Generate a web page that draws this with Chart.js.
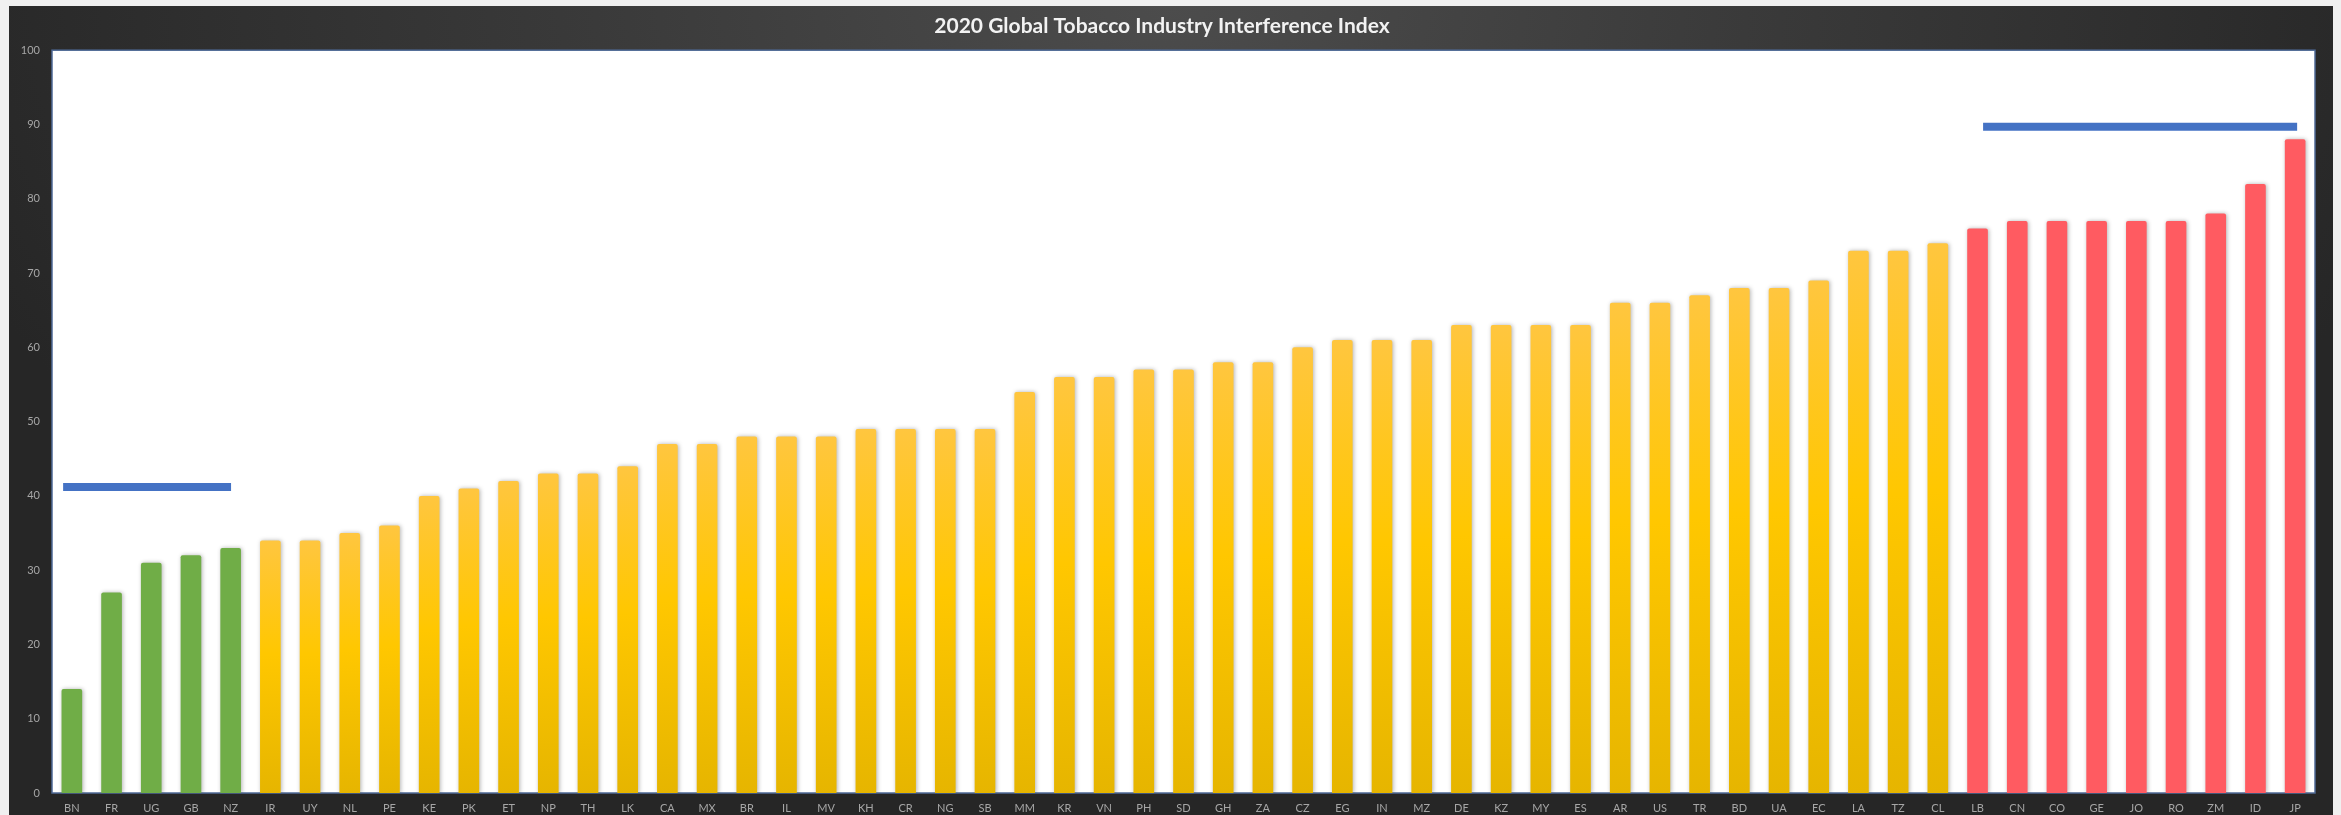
<!DOCTYPE html>
<html>
<head>
<meta charset="utf-8">
<script src="https://cdn.jsdelivr.net/npm/chart.js@4.4.1/dist/chart.umd.min.js"></script>
<style>
html, body { margin: 0; padding: 0; background: #f0f0f0; }
#bg {
    position: absolute; left: 9px; top: 6px; width: 2324px; height: 809px;
    background: radial-gradient(ellipse 55% 95% at 50% 0%, #4c4c4c 0%, #3a3a3a 45%, #262626 100%);
}
#wrap { position: absolute; left: 0; top: 0; width: 2341px; height: 815px; }
</style>
</head>
<body>
<div id="bg"></div>
<div id="wrap"><canvas id="tiiChart" width="2341" height="815"></canvas></div>
<script>
// Dữ liệu
const countries = ['BN', 'FR', 'UG', 'GB', 'NZ', 'IR', 'UY', 'NL', 'PE', 'KE', 'PK', 'ET', 'NP', 'TH', 'LK',
    'CA', 'MX', 'BR', 'IL', 'MV', 'KH', 'CR', 'NG', 'SB', 'MM', 'KR', 'VN', 'PH', 'SD', 'GH', 'ZA', 'CZ',
    'EG', 'IN', 'MZ', 'DE', 'KZ', 'MY', 'ES', 'AR', 'US', 'TR', 'BD', 'UA', 'EC', 'LA', 'TZ', 'CL', 'LB',
    'CN', 'CO', 'GE', 'JO', 'RO', 'ZM', 'ID', 'JP'];
const scores = [14, 27, 31, 32, 33, 34, 34, 35, 36, 40, 41, 42, 43, 43, 44,
    47, 47, 48, 48, 48, 49, 49, 49, 49, 54, 56, 56, 57, 57, 58, 58, 60,
    61, 61, 61, 63, 63, 63, 63, 66, 66, 67, 68, 68, 69, 73, 73, 74, 76,
    77, 77, 77, 77, 77, 78, 82, 88];
const yTicks = [0, 10, 20, 30, 40, 50, 60, 70, 80, 90, 100];
const greenCount = 5;    // 5 nước đầu: xanh lá
const redFrom = 48;      // từ LB trở đi: đỏ
// Hai vạch xanh dương (mức)
const lowLine = [[-0.22, 41.2], [4.01, 41.2]];
const highLine = [[48.14, 89.7], [56.05, 89.7]];

function barColor(context) {
    const i = context.dataIndex;
    if (i < greenCount) return '#70ad47';
    if (i >= redFrom) return '#ff5b61';
    const chart = context.chart;
    const y = chart.scales.y;
    if (!chart.chartArea || !y) return '#ffc000';
    const top = y.getPixelForValue(scores[i]);
    const bottom = y.getPixelForValue(0);
    const g = chart.ctx.createLinearGradient(0, top, 0, bottom);
    g.addColorStop(0, '#ffc63f');
    g.addColorStop(0.45, '#ffc700');
    g.addColorStop(1, '#e6b500');
    return g;
}

// Nền trắng cho vùng vẽ
const plotBg = {
    id: 'plotBg',
    beforeDatasetsDraw(chart) {
        const { ctx, chartArea: a } = chart;
        ctx.save();
        ctx.fillStyle = '#ffffff';
        ctx.fillRect(a.left, a.top, a.right - a.left, a.bottom - a.top);
        ctx.strokeStyle = '#4f6a96';
        ctx.lineWidth = 1.5;
        ctx.strokeRect(a.left, a.top, a.right - a.left, a.bottom - a.top);
        ctx.restore();
    }
};

// Bóng mờ cho cột
const barShadow = {
    id: 'barShadow',
    beforeDatasetDraw(chart, args) {
        if (args.index !== 0) return;
        const ctx = chart.ctx;
        ctx.save();
        ctx.shadowColor = 'rgba(0,0,0,0.3)';
        ctx.shadowBlur = 4;
        ctx.shadowOffsetX = 1;
    },
    afterDatasetDraw(chart, args) {
        if (args.index === 0) chart.ctx.restore();
    }
};

const toPoints = arr => arr.map(p => ({ x: p[0], y: p[1] }));

new Chart(document.getElementById('tiiChart'), {
    type: 'bar',
    data: {
        labels: countries,
        datasets: [{
            type: 'bar',
            data: scores,
            backgroundColor: barColor,
            borderRadius: 2,
            grouped: false,
            categoryPercentage: 1,
            barPercentage: 0.52,
            order: 2
        }, {
            type: 'line',
            xAxisID: 'xLine',
            data: toPoints(lowLine),
            borderColor: '#4472c4',
            borderWidth: 8,
            borderCapStyle: 'butt',
            pointRadius: 0,
            order: 1
        }, {
            type: 'line',
            xAxisID: 'xLine',
            data: toPoints(highLine),
            borderColor: '#4472c4',
            borderWidth: 8,
            borderCapStyle: 'butt',
            pointRadius: 0,
            order: 1
        }]
    },
    options: {
        responsive: false,
        animation: false,
        devicePixelRatio: 1,
        layout: { padding: { top: 6, left: 9, right: 26, bottom: 0 } },
        plugins: {
            legend: { display: false },
            tooltip: { enabled: false },
            title: {
                display: true,
                text: '2020 Global Tobacco Industry Interference Index',
                color: '#f2f2f2',
                font: { family: 'Lato', size: 21, weight: 'bold' },
                padding: { top: 8, bottom: 11 }
            }
        },
        scales: {
            x: {
                afterFit: s => { s.height = 22; },
                grid: { display: false, drawTicks: false },
                border: { display: false },
                ticks: {
                    color: '#a6a6a6',
                    font: { family: 'Lato', size: 11 },
                    padding: 9,
                    autoSkip: false,
                    maxRotation: 0
                }
            },
            xLine: {
                type: 'linear',
                display: false,
                offset: false,
                min: -0.5,
                max: countries.length - 0.5
            },
            y: {
                min: 0,
                max: 100,
                afterBuildTicks: s => { s.ticks = yTicks.map(v => ({ value: v })); },
                afterFit: s => { s.width = 43; },
                grid: { display: false, drawTicks: false },
                border: { display: false },
                ticks: {
                    color: '#a6a6a6',
                    font: { family: 'Lato', size: 11 },
                    padding: 12
                }
            }
        }
    },
    plugins: [plotBg, barShadow]
});
</script>
</body>
</html>
